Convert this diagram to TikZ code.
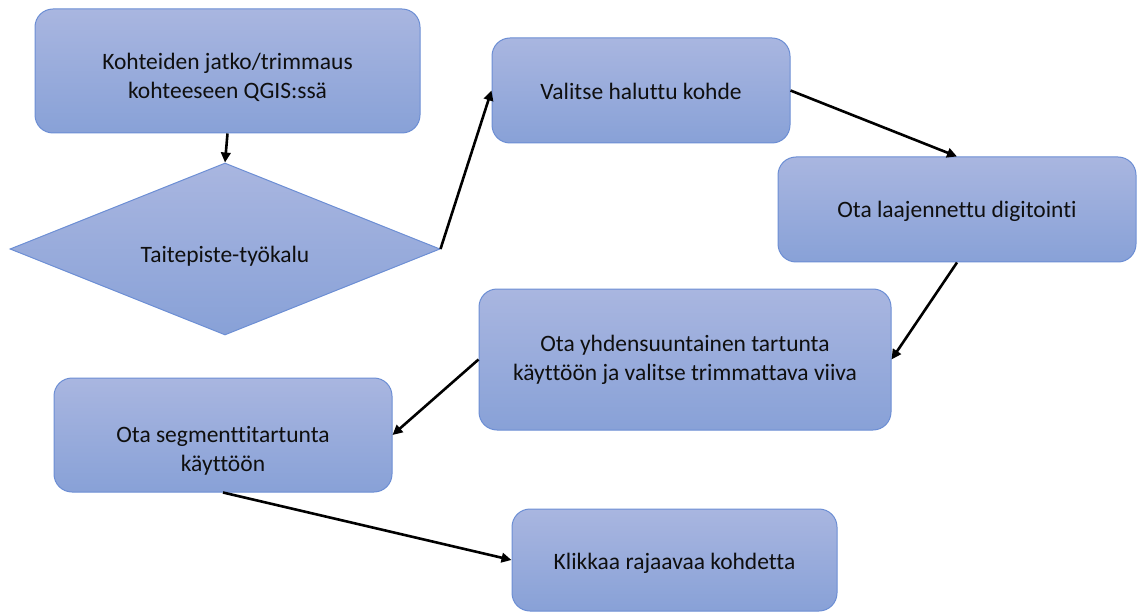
\documentclass[tikz,border=0pt]{standalone}
\usepackage{fontspec}
\setmainfont{Carlito}[Ligatures=NoCommon,RawFeature={-liga}]
\usetikzlibrary{shapes.geometric,arrows.meta}
\definecolor{boxtop}{RGB}{169,182,224}
\definecolor{boxbot}{RGB}{136,161,215}
\definecolor{boxedge}{RGB}{108,142,212}
\definecolor{txt}{RGB}{15,15,15}
\begin{document}
\begin{tikzpicture}[x=1pt,y=-1pt,
  boxbase/.style={draw=boxedge,line width=1pt,top color=boxtop,bottom color=boxbot,inner sep=0pt},
  stepbox/.style={boxbase,rectangle,rounded corners=18pt},
  decbox/.style={boxbase,diamond,aspect=2.5},
  txtlab/.style={font=\fontsize{23.5}{29}\selectfont,text=txt,align=center},
  conn/.style={line width=2.6pt,-{Triangle[length=10pt,width=9.5pt]}}]
\useasboundingbox (0,0) rectangle (1137,612);
\node[stepbox,minimum width=385pt,minimum height=124pt,
  label={[txtlab,yshift=-6pt]center:Kohteiden jatko/trimmaus\\kohteeseen QGIS:ssä}] (b1) at (227.5,71) {};
\node[decbox,minimum width=430pt,minimum height=172pt,
  label={[txtlab,yshift=-7pt]center:Taitepiste-työkalu}] (d) at (225,249) {};
\node[stepbox,minimum width=298pt,minimum height=105pt,
  label={[txtlab,yshift=-1pt]center:Valitse haluttu kohde}] (b2) at (641,90.5) {};
\node[stepbox,minimum width=358pt,minimum height=105pt,
  label={[txtlab,yshift=-2pt]center:Ota laajennettu digitointi}] (b3) at (957,209.5) {};
\node[stepbox,minimum width=412pt,minimum height=141pt,
  label={[txtlab]center:Ota yhdensuuntainen tartunta\\käyttöön ja valitse trimmattava viiva}] (b4) at (685,359.5) {};
\node[stepbox,minimum width=338pt,minimum height=114pt,
  label={[txtlab,yshift=-16pt]center:Ota segmenttitartunta\\käyttöön}] (b5) at (223,435) {};
\node[stepbox,minimum width=325pt,minimum height=102pt,
  label={[txtlab,yshift=-3pt]center:Klikkaa rajaavaa kohdetta}] (b6) at (674.5,560) {};
\draw[conn] (b1.south) -- (d.north);
\draw[conn] (d.east) -- (b2.west);
\draw[conn] (b2.east) -- (b3.north);
\draw[conn] (b3.south) -- (b4.east);
\draw[conn] (b4.west) -- (b5.east);
\draw[conn] (b5.south) -- (b6.west);
\end{tikzpicture}
\end{document}
